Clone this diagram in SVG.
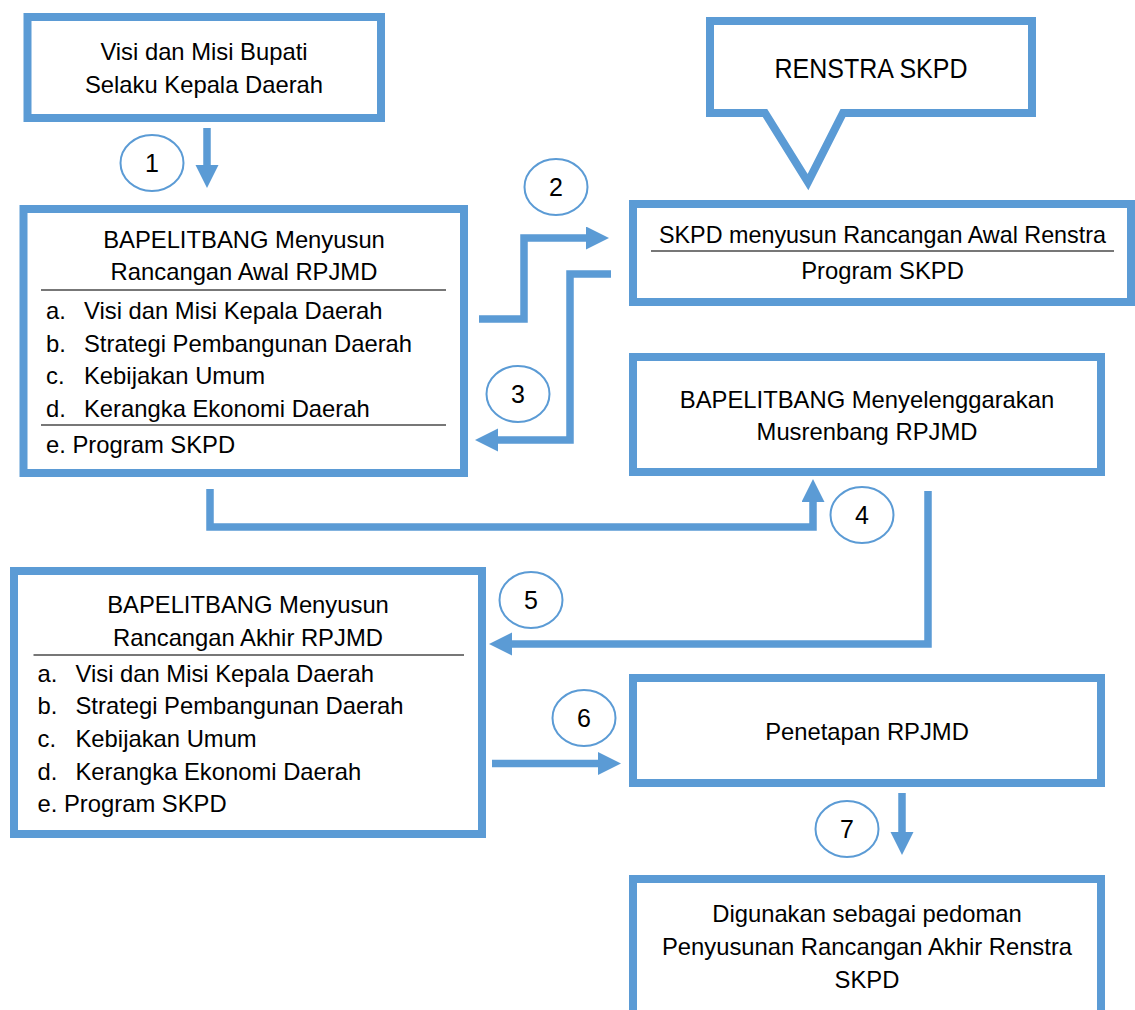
<svg xmlns="http://www.w3.org/2000/svg" width="1135" height="1010" viewBox="0 0 1135 1010">
<style>
  .box { fill: #ffffff; stroke: #5B9BD5; stroke-width: 8; stroke-linejoin: miter; }
  .sep { stroke: #4a4a4a; stroke-width: 1.6; fill: none; }
  .t { font-family: "Liberation Sans", Arial, sans-serif; font-size: 23.8px; fill: #000000; }
  .c { text-anchor: middle; }
  .conn { fill: none; stroke: #5B9BD5; stroke-width: 7.5; stroke-linejoin: miter; stroke-linecap: butt; marker-end: url(#ah); }
  .num { fill: #ffffff; stroke: #5B9BD5; stroke-width: 2; }
  .n { font-family: "Liberation Sans", Arial, sans-serif; font-size: 25px; fill: #000000; text-anchor: middle; }
</style>
<defs>
  <marker id="ah" markerUnits="userSpaceOnUse" markerWidth="24" markerHeight="24" refX="0" refY="11.5" orient="auto">
    <path d="M0,0 L23,11.5 L0,23 Z" fill="#5B9BD5"/>
  </marker>
</defs>
<rect width="1135" height="1010" fill="#ffffff"/>

<g id="connectors">
  <path class="conn" d="M207,128 V165"/>
  <path class="conn" d="M479,319 H524 V238 H586"/>
  <path class="conn" d="M611,274 H570 V440 H498"/>
  <path class="conn" d="M210,489 V527 H813 V502"/>
  <path class="conn" d="M928,491 V644 H512"/>
  <path class="conn" d="M492,763.5 H598"/>
  <path class="conn" d="M902,793 V832"/>
</g>

<g id="visi">
  <rect class="box" x="27.5" y="17" width="353.5" height="101"/>
  <text class="t c" x="204" y="60">Visi dan Misi Bupati</text>
  <text class="t c" x="204" y="93">Selaku Kepala Daerah</text>
</g>

<g id="renstra">
  <path class="box" d="M710,21 H1032 V113 H843 L808,182 L765,113 H710 Z"/>
  <text class="t c" x="871" y="78" style="font-size:27px" textLength="193" lengthAdjust="spacingAndGlyphs">RENSTRA SKPD</text>
</g>

<g id="rancangan-awal">
  <rect class="box" x="23.5" y="209" width="440.5" height="264"/>
  <text class="t c" x="244" y="248">BAPELITBANG Menyusun</text>
  <text class="t c" x="244" y="280">Rancangan Awal RPJMD</text>
  <line class="sep" x1="41" y1="290" x2="446" y2="290"/>
  <text class="t" x="46" y="319">a.</text><text class="t" x="84" y="319">Visi dan Misi Kepala Daerah</text>
  <text class="t" x="46" y="352">b.</text><text class="t" x="84" y="352">Strategi Pembangunan Daerah</text>
  <text class="t" x="46" y="384">c.</text><text class="t" x="84" y="384">Kebijakan Umum</text>
  <text class="t" x="46" y="417">d.</text><text class="t" x="84" y="417">Kerangka Ekonomi Daerah</text>
  <line class="sep" x1="41" y1="425" x2="446" y2="425"/>
  <text class="t" x="46" y="453">e. Program SKPD</text>
</g>

<g id="skpd-renstra">
  <rect class="box" x="633" y="204" width="498" height="98"/>
  <text class="t c" x="882.5" y="243" textLength="447" lengthAdjust="spacingAndGlyphs">SKPD menyusun Rancangan Awal Renstra</text>
  <line class="sep" x1="651" y1="251" x2="1114" y2="251"/>
  <text class="t c" x="882.5" y="279">Program SKPD</text>
</g>

<g id="musrenbang">
  <rect class="box" x="633" y="357" width="468" height="115"/>
  <text class="t c" x="867" y="408">BAPELITBANG Menyelenggarakan</text>
  <text class="t c" x="867" y="440">Musrenbang RPJMD</text>
</g>

<g id="rancangan-akhir">
  <rect class="box" x="14" y="571" width="468" height="263"/>
  <text class="t c" x="248" y="613">BAPELITBANG Menyusun</text>
  <text class="t c" x="248" y="646">Rancangan Akhir RPJMD</text>
  <line class="sep" x1="33.5" y1="655" x2="464" y2="655"/>
  <text class="t" x="37.5" y="682">a.</text><text class="t" x="75.5" y="682">Visi dan Misi Kepala Daerah</text>
  <text class="t" x="37.5" y="714">b.</text><text class="t" x="75.5" y="714">Strategi Pembangunan Daerah</text>
  <text class="t" x="37.5" y="747">c.</text><text class="t" x="75.5" y="747">Kebijakan Umum</text>
  <text class="t" x="37.5" y="780">d.</text><text class="t" x="75.5" y="780">Kerangka Ekonomi Daerah</text>
  <text class="t" x="37.5" y="812">e. Program SKPD</text>
</g>

<g id="penetapan">
  <rect class="box" x="633" y="678" width="468" height="105"/>
  <text class="t c" x="867" y="740">Penetapan RPJMD</text>
</g>

<g id="pedoman">
  <rect class="box" x="633" y="879" width="468" height="150"/>
  <text class="t c" x="867" y="922">Digunakan sebagai pedoman</text>
  <text class="t c" x="867" y="955">Penyusunan Rancangan Akhir Renstra</text>
  <text class="t c" x="867" y="988">SKPD</text>
</g>

<g id="step-1"><ellipse class="num" cx="152" cy="163" rx="31.5" ry="28"/><text class="n" x="152" y="172">1</text></g>
<g id="step-2"><ellipse class="num" cx="556" cy="187" rx="31.5" ry="28"/><text class="n" x="556" y="196">2</text></g>
<g id="step-3"><ellipse class="num" cx="518" cy="394" rx="31.5" ry="28"/><text class="n" x="518" y="403">3</text></g>
<g id="step-4"><ellipse class="num" cx="862" cy="515" rx="31.5" ry="28"/><text class="n" x="862" y="524">4</text></g>
<g id="step-5"><ellipse class="num" cx="531" cy="600" rx="31.5" ry="28"/><text class="n" x="531" y="609">5</text></g>
<g id="step-6"><ellipse class="num" cx="584" cy="718" rx="31.5" ry="28"/><text class="n" x="584" y="727">6</text></g>
<g id="step-7"><ellipse class="num" cx="847" cy="829" rx="31.5" ry="28"/><text class="n" x="847" y="838">7</text></g>
</svg>
